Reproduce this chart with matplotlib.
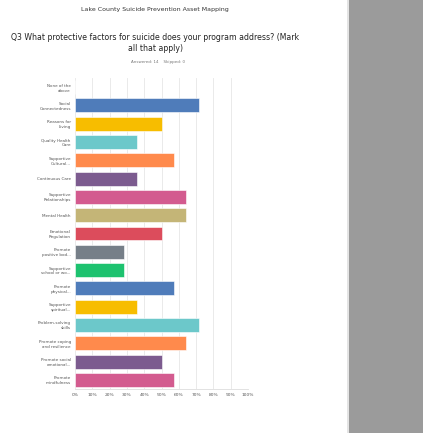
import matplotlib.pyplot as plt
from matplotlib.patches import Rectangle

categories = [
    "None of the\nabove",
    "Social\nConnectedness",
    "Reasons for\nLiving",
    "Quality Health\nCare",
    "Supportive\nCultural...",
    "Continuous Care",
    "Supportive\nRelationships",
    "Mental Health",
    "Emotional\nRegulation",
    "Promote\npositive bod...",
    "Supportive\nschool or wo...",
    "Promote\nphysical...",
    "Supportive\nspiritual...",
    "Problem-solving\nskills",
    "Promote coping\nand resilience",
    "Promote social\nemotional...",
    "Promote\nmindfulness",
]
percents = [0.0, 71.43, 50.0, 35.71, 57.14, 35.71, 64.29, 64.29, 50.0,
            28.57, 28.57, 57.14, 35.71, 71.43, 64.29, 50.0, 57.14]
bar_colors = ["#4f7cba", "#4f7cba", "#f7bd00", "#6cc8ca", "#ff8a4c",
              "#7c5b8f", "#d35b8f", "#c4b577", "#dc4c5c", "#767f88",
              "#1dc26f", "#4f7cba", "#f7bd00", "#6cc8ca", "#ff8a4c",
              "#7c5b8f", "#d35b8f"]
tick_values = list(range(0, 101, 10))
tick_labels = [f"{v}%" for v in tick_values]

fig = plt.figure(figsize=(4.23, 4.33), dpi=100)
fig.patch.set_facecolor("white")

# gray side panel on the right
fig.patches.append(Rectangle((349 / 423, 0), 1 - 349 / 423, 1,
                             transform=fig.transFigure, facecolor="#9b9b9b",
                             edgecolor="none", zorder=0))
fig.patches.append(Rectangle((347 / 423, 0), 2 / 423, 1,
                             transform=fig.transFigure, facecolor="#e4e4e4",
                             edgecolor="none", zorder=0))

title_x = 155 / 423
fig.text(title_x, 0.979, "Lake County Suicide Prevention Asset Mapping",
         ha="center", va="center", fontsize=4.5, color="#333333")
fig.text(title_x, 0.914,
         "Q3 What protective factors for suicide does your program address? (Mark",
         ha="center", va="center", fontsize=5.55, color="#222222")
fig.text(title_x, 0.888, "all that apply)",
         ha="center", va="center", fontsize=5.55, color="#222222")
fig.text(158 / 423, 0.857, "Answered: 14    Skipped: 0",
         ha="center", va="center", fontsize=2.9, color="#777777")

ax = fig.add_axes([75 / 423, 1 - 389 / 433, 173 / 423, 311 / 433])
y_pos = list(range(len(categories)))
ax.barh(y_pos, percents, height=0.76, color=bar_colors,
        edgecolor="#ffffff", linewidth=0.4, zorder=2)

ax.set_xlim(0, 100)
ax.set_ylim(len(categories) - 0.5, -0.5)
ax.set_xticks(tick_values)
ax.set_xticklabels(tick_labels, fontsize=3.2, color="#555555")
ax.set_yticks(y_pos)
ax.set_yticklabels(categories, fontsize=3.0, color="#555555",
                   linespacing=1.3)
ax.tick_params(axis="both", length=0, pad=3)
ax.grid(axis="x", color="#e6e6e6", linewidth=0.6, zorder=0)
for side in ["top", "right", "left"]:
    ax.spines[side].set_visible(False)
ax.spines["bottom"].set_color("#dddddd")
ax.spines["bottom"].set_linewidth(0.6)

fig.savefig("out.png", dpi=100)
